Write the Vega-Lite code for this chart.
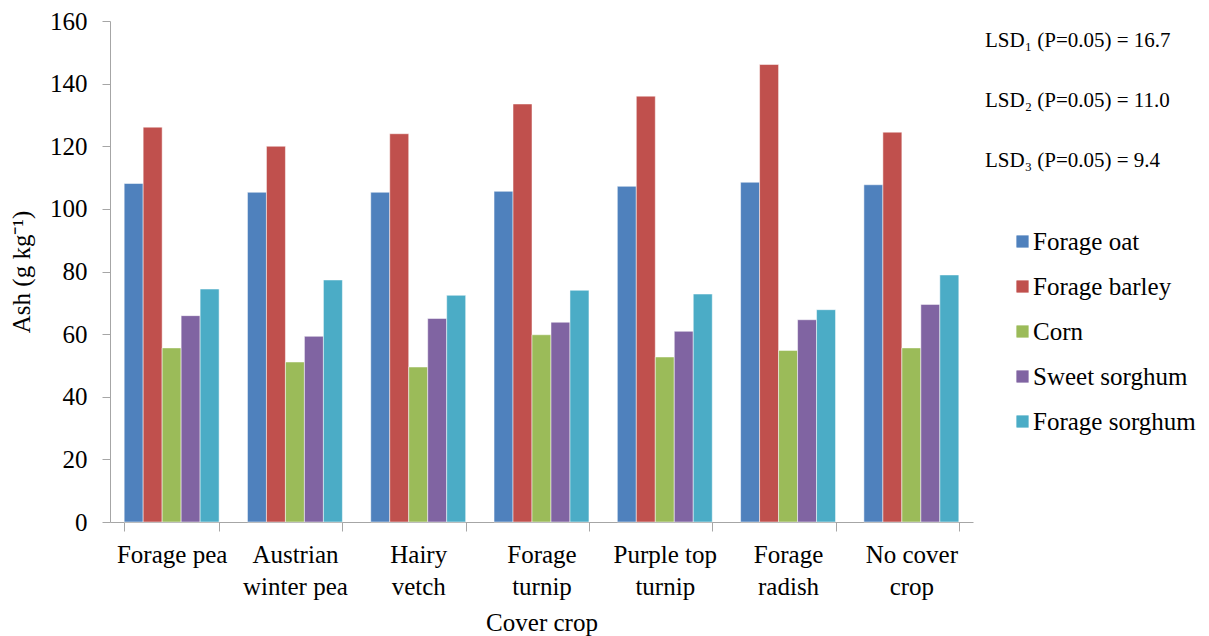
{
  "$schema": "https://vega.github.io/schema/vega-lite/v6.json",
  "autosize": {"type": "none"},
  "padding": {"left": 110, "top": 21, "right": 236, "bottom": 114},
  "width": 863,
  "height": 501,
  "background": "white",
  "config": {
    "view": {"stroke": null},
    "font": "Liberation Serif",
    "axis": {"labelFont": "Liberation Serif", "titleFont": "Liberation Serif", "labelColor": "#000000", "titleColor": "#000000", "titleFontWeight": "normal", "grid": false, "domainColor": "#a6a6a6", "tickColor": "#a6a6a6"},
    "legend": {"labelFont": "Liberation Serif", "titleFont": "Liberation Serif"}
  },
  "data": {
    "values": [
      {"crop": "Forage pea", "forage": "Forage oat", "ash": 108.1},
      {"crop": "Forage pea", "forage": "Forage barley", "ash": 126.1},
      {"crop": "Forage pea", "forage": "Corn", "ash": 55.6},
      {"crop": "Forage pea", "forage": "Sweet sorghum", "ash": 65.9},
      {"crop": "Forage pea", "forage": "Forage sorghum", "ash": 74.4},
      {"crop": "Austrian winter pea", "forage": "Forage oat", "ash": 105.3},
      {"crop": "Austrian winter pea", "forage": "Forage barley", "ash": 120.0},
      {"crop": "Austrian winter pea", "forage": "Corn", "ash": 51.1},
      {"crop": "Austrian winter pea", "forage": "Sweet sorghum", "ash": 59.3},
      {"crop": "Austrian winter pea", "forage": "Forage sorghum", "ash": 77.3},
      {"crop": "Hairy vetch", "forage": "Forage oat", "ash": 105.3},
      {"crop": "Hairy vetch", "forage": "Forage barley", "ash": 124.0},
      {"crop": "Hairy vetch", "forage": "Corn", "ash": 49.5},
      {"crop": "Hairy vetch", "forage": "Sweet sorghum", "ash": 65.0},
      {"crop": "Hairy vetch", "forage": "Forage sorghum", "ash": 72.4},
      {"crop": "Forage turnip", "forage": "Forage oat", "ash": 105.6},
      {"crop": "Forage turnip", "forage": "Forage barley", "ash": 133.5},
      {"crop": "Forage turnip", "forage": "Corn", "ash": 59.8},
      {"crop": "Forage turnip", "forage": "Sweet sorghum", "ash": 63.8},
      {"crop": "Forage turnip", "forage": "Forage sorghum", "ash": 74.0},
      {"crop": "Purple top turnip", "forage": "Forage oat", "ash": 107.2},
      {"crop": "Purple top turnip", "forage": "Forage barley", "ash": 136.0},
      {"crop": "Purple top turnip", "forage": "Corn", "ash": 52.7},
      {"crop": "Purple top turnip", "forage": "Sweet sorghum", "ash": 60.9},
      {"crop": "Purple top turnip", "forage": "Forage sorghum", "ash": 72.8},
      {"crop": "Forage radish", "forage": "Forage oat", "ash": 108.5},
      {"crop": "Forage radish", "forage": "Forage barley", "ash": 146.1},
      {"crop": "Forage radish", "forage": "Corn", "ash": 54.8},
      {"crop": "Forage radish", "forage": "Sweet sorghum", "ash": 64.6},
      {"crop": "Forage radish", "forage": "Forage sorghum", "ash": 67.8},
      {"crop": "No cover crop", "forage": "Forage oat", "ash": 107.7},
      {"crop": "No cover crop", "forage": "Forage barley", "ash": 124.5},
      {"crop": "No cover crop", "forage": "Corn", "ash": 55.6},
      {"crop": "No cover crop", "forage": "Sweet sorghum", "ash": 69.5},
      {"crop": "No cover crop", "forage": "Forage sorghum", "ash": 78.9}
    ]
  },
  "mark": {"type": "bar", "stroke": "white", "strokeWidth": 0.5},
  "encoding": {
    "x": {
      "field": "crop", "type": "nominal",
      "sort": ["Forage pea", "Austrian winter pea", "Hairy vetch", "Forage turnip", "Purple top turnip", "Forage radish", "No cover crop"],
      "scale": {"paddingInner": 0.23, "paddingOuter": 0.115},
      "axis": {
        "title": "Cover crop", "titleFont": "Liberation Serif", "titleFontSize": 25, "titlePadding": 11,
        "labelAngle": 0, "labelFont": "Liberation Serif", "labelFontSize": 25, "labelPadding": 11, "labelLineHeight": 32,
        "labelBaseline": "top", "tickSize": 9, "tickBand": "extent",
        "labelExpr": "datum.label == 'Austrian winter pea' ? ['Austrian', 'winter pea'] : datum.label == 'Hairy vetch' ? ['Hairy', 'vetch'] : datum.label == 'Forage turnip' ? ['Forage', 'turnip'] : datum.label == 'Purple top turnip' ? ['Purple top', 'turnip'] : datum.label == 'Forage radish' ? ['Forage', 'radish'] : datum.label == 'No cover crop' ? ['No cover', 'crop'] : datum.label"
      }
    },
    "xOffset": {
      "field": "forage", "type": "nominal",
      "sort": ["Forage oat", "Forage barley", "Corn", "Sweet sorghum", "Forage sorghum"],
      "scale": {"paddingInner": 0, "paddingOuter": 0}
    },
    "y": {
      "field": "ash", "type": "quantitative",
      "scale": {"domain": [0, 160], "nice": false},
      "axis": {"title": "Ash (g kg⁻¹)", "titleFont": "Liberation Serif", "titleFontSize": 25, "titlePadding": 15, "values": [0, 20, 40, 60, 80, 100, 120, 140, 160], "labelFont": "Liberation Serif", "labelFontSize": 25, "labelPadding": 15, "tickSize": 8}
    },
    "color": {
      "field": "forage", "type": "nominal",
      "sort": ["Forage oat", "Forage barley", "Corn", "Sweet sorghum", "Forage sorghum"],
      "scale": {"domain": ["Forage oat", "Forage barley", "Corn", "Sweet sorghum", "Forage sorghum"], "range": ["#4F81BD", "#C0504D", "#9BBB59", "#8064A2", "#4BACC6"]},
      "legend": {
        "title": ["LSD₁ (P=0.05) = 16.7", "LSD₂ (P=0.05) = 11.0", "LSD₃ (P=0.05) = 9.4"],
        "titleFont": "Liberation Serif", "titleFontSize": 21, "titleFontWeight": "normal", "titleColor": "#000000", "titleLineHeight": 60, "titlePadding": 58, "titleLimit": 400,
        "orient": "none", "legendX": 875, "legendY": 9, "padding": 0,
        "symbolType": "square", "symbolSize": 150, "symbolStrokeWidth": 0, "symbolOffset": 25,
        "labelFont": "Liberation Serif", "labelFontSize": 25, "labelColor": "#000000", "labelOffset": -2, "labelLimit": 400, "rowPadding": 19
      }
    }
  }
}
